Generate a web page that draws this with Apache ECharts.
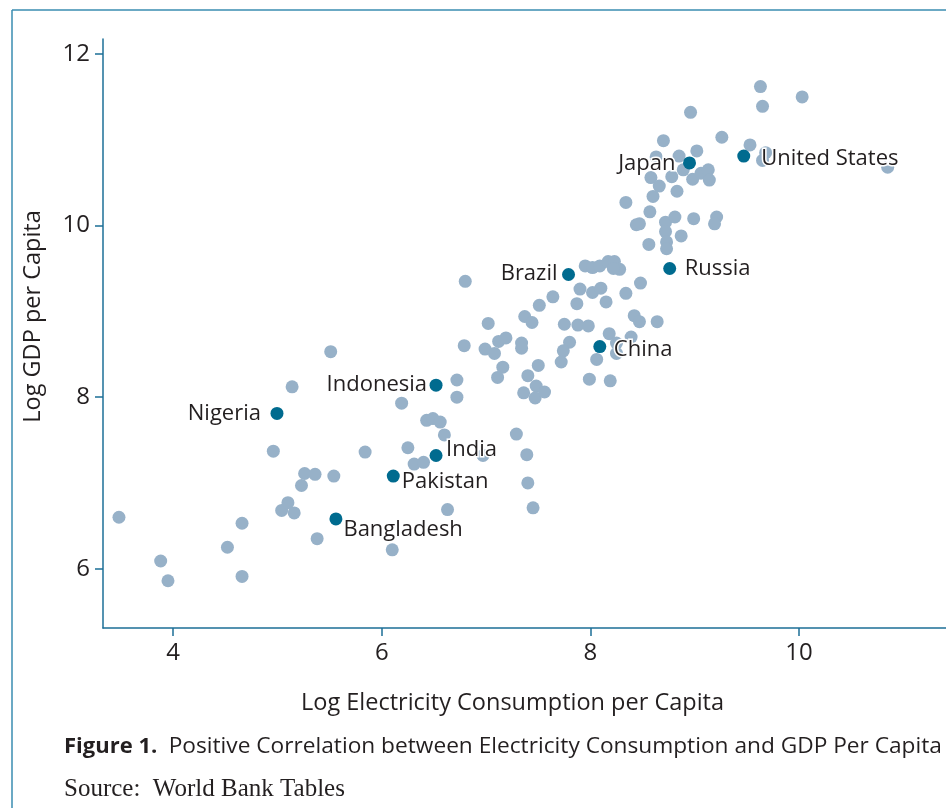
<!DOCTYPE html>
<html>
<head>
<meta charset="utf-8">
<script src="https://cdn.jsdelivr.net/npm/echarts@6/dist/echarts.min.js"></script>
<style>
  html, body { margin: 0; padding: 0; background: #ffffff; }
  #chart { width: 946px; height: 808px; }
</style>
</head>
<body>
<div id="chart"></div>
<script>
// Log electricity consumption per capita (x) and log GDP per capita (y)
const elecOther = [
  3.48, 3.88, 3.95, 4.52, 4.66, 4.66, 4.96, 5.14, 5.04, 5.10,
  5.16, 5.23, 5.26, 5.36, 5.38, 5.51, 5.54, 5.84, 6.19, 6.10,
  6.25, 6.31, 6.40, 6.43, 6.49, 6.56, 6.60, 6.63, 6.72, 6.72,
  6.79, 6.80, 6.97, 7.02, 6.99, 7.08, 7.12, 7.19, 7.16, 7.11,
  7.29, 7.39, 7.40, 7.45, 7.34, 7.34, 7.37, 7.44, 7.51, 7.50,
  7.40, 7.48, 7.36, 7.47, 7.56, 7.64, 7.75, 7.88, 7.98, 7.80,
  7.74, 7.72, 7.87, 7.90, 8.02, 8.10, 8.15, 7.95, 8.02, 8.09,
  8.17, 8.23, 8.28, 8.22, 8.34, 8.48, 8.18, 8.25, 8.25, 8.06,
  7.99, 8.19, 8.39, 8.42, 8.47, 8.64, 8.34, 8.57, 8.44, 8.47,
  8.60, 8.58, 8.66, 8.70, 8.63, 8.85, 9.02, 8.78, 8.89, 8.83,
  8.98, 9.06, 9.13, 9.14, 8.72, 8.81, 8.99, 9.21, 9.19, 8.72,
  8.87, 8.56, 8.73, 8.73, 8.96, 9.26, 9.53, 9.68, 9.65, 9.63,
  9.65, 10.03, 10.85
];
const gdpOther = [
  6.60, 6.09, 5.86, 6.25, 6.53, 5.91, 7.37, 8.12, 6.68, 6.77,
  6.65, 6.97, 7.11, 7.10, 6.35, 8.53, 7.08, 7.36, 7.93, 6.22,
  7.41, 7.22, 7.24, 7.73, 7.75, 7.71, 7.56, 6.69, 8.20, 8.00,
  8.60, 9.35, 7.32, 8.86, 8.56, 8.51, 8.65, 8.69, 8.35, 8.23,
  7.57, 7.33, 7.00, 6.71, 8.63, 8.57, 8.94, 8.87, 9.07, 8.37,
  8.25, 8.13, 8.05, 7.99, 8.06, 9.17, 8.85, 8.84, 8.83, 8.64,
  8.54, 8.41, 9.09, 9.26, 9.22, 9.27, 9.11, 9.53, 9.51, 9.53,
  9.58, 9.58, 9.49, 9.50, 9.21, 9.33, 8.74, 8.63, 8.51, 8.44,
  8.21, 8.19, 8.70, 8.95, 8.88, 8.88, 10.27, 10.16, 10.01, 10.02,
  10.34, 10.56, 10.46, 10.99, 10.80, 10.81, 10.87, 10.57, 10.65, 10.40,
  10.54, 10.61, 10.65, 10.53, 10.04, 10.10, 10.08, 10.10, 10.02, 9.93,
  9.88, 9.78, 9.81, 9.73, 11.32, 11.03, 10.94, 10.85, 10.76, 11.62,
  11.39, 11.50, 10.68
];

// Named countries
const labeledCountries = ['Nigeria', 'Indonesia', 'India', 'Pakistan', 'Bangladesh',
                          'China', 'Brazil', 'Russia', 'Japan', 'United States'];
const elecLabeled = [4.995, 6.52, 6.52, 6.11, 5.56, 8.09, 7.79, 8.76, 8.95, 9.47];
const gdpLabeled  = [7.81, 8.14, 7.32, 7.08, 6.58, 8.59, 9.43, 9.50, 10.73, 10.81];

const xTicks = [4, 6, 8, 10];
const yTicks = [6, 8, 10, 12];

const FONT = '"Open Sans", "Noto Sans", sans-serif';
const INK = '#231f20';
const AXIS = '#1d6f97';

// Where each country name sits relative to its dot: [side, dx, dy]
const labelPlacement = {
  'Nigeria': ['left', -3.5, 0],
  'Indonesia': ['left', 3.5, 0],
  'India': ['right', -2.5, -6],
  'Pakistan': ['right', -4, 6],
  'Bangladesh': ['right', -5, 11],
  'China': ['right', 1.5, 3],
  'Brazil': ['left', 1.5, -1],
  'Russia': ['right', 2.5, 0],
  'Japan': ['left', -1.5, 1],
  'United States': ['right', 5, 3]
};

const otherData = elecOther.map((x, i) => [x, gdpOther[i]]);
const labeledData = labeledCountries.map((name, i) => {
  const p = labelPlacement[name];
  return {
    name: name,
    value: [elecLabeled[i], gdpLabeled[i]],
    label: { position: p[0], offset: [p[1], p[2]] }
  };
});

const chart = echarts.init(document.getElementById('chart'), null, { renderer: 'canvas' });

chart.setOption({
  animation: false,
  backgroundColor: '#ffffff',
  grid: { left: 103, top: 39, right: 0, bottom: 180, containLabel: false },
  xAxis: {
    type: 'value',
    min: 3.327,
    max: 11.409,
    name: 'Log Electricity Consumption per Capita',
    nameLocation: 'middle',
    nameGap: 63,
    nameTextStyle: { fontFamily: FONT, fontSize: 23.5, color: INK, padding: [0, 24, 0, 0] },
    axisLine: { show: true, lineStyle: { color: AXIS, width: 1.5 } },
    axisTick: { show: true, length: 8, customValues: xTicks, lineStyle: { color: AXIS, width: 1.5 } },
    axisLabel: { customValues: xTicks, fontFamily: FONT, fontSize: 24, color: INK, margin: 13 },
    splitLine: { show: false }
  },
  yAxis: {
    type: 'value',
    min: 5.309,
    max: 12.175,
    name: 'Log GDP per Capita',
    nameLocation: 'middle',
    nameGap: 58,
    nameTextStyle: { fontFamily: FONT, fontSize: 23.5, color: INK, padding: [0, 0, 0, 34] },
    axisLine: { show: true, lineStyle: { color: AXIS, width: 1.5 } },
    axisTick: { show: true, length: 8, customValues: yTicks, lineStyle: { color: AXIS, width: 1.5 } },
    axisLabel: { customValues: yTicks, fontFamily: FONT, fontSize: 24, color: INK, margin: 13 },
    splitLine: { show: false }
  },
  series: [
    {
      type: 'scatter',
      data: otherData,
      symbol: 'circle',
      symbolSize: 13,
      itemStyle: { color: '#97b1c8', opacity: 1 },
      z: 2
    },
    {
      type: 'scatter',
      data: labeledData,
      symbol: 'circle',
      symbolSize: 13,
      itemStyle: { color: '#006b8f', opacity: 1 },
      label: {
        show: true,
        formatter: '{b}',
        distance: 6,
        fontFamily: FONT,
        fontSize: 22,
        color: INK,
        textBorderColor: '#ffffff',
        textBorderWidth: 3
      },
      z: 5
    }
  ],
  graphic: [
    // frame rule on the left and top
    { type: 'line', shape: { x1: 12, y1: 10, x2: 12, y2: 808 }, style: { stroke: '#3a8db0', lineWidth: 1.5 } },
    { type: 'line', shape: { x1: 12, y1: 10, x2: 946, y2: 10 }, style: { stroke: '#3a8db0', lineWidth: 1.5 } },
    {
      type: 'text', left: 64, top: 735,
      style: {
        text: '{b|Figure 1.}  {n|Positive Correlation between Electricity Consumption and GDP Per Capita}',
        rich: {
          b: { fontFamily: FONT, fontWeight: 'bold', fontSize: 22, fill: INK },
          n: { fontFamily: FONT, fontSize: 22.7, fill: INK }
        },
        fontFamily: FONT, fontSize: 22, fill: INK
      }
    },
    {
      type: 'text', left: 64, top: 777,
      style: {
        text: 'Source:  World Bank Tables',
        fontFamily: '"Liberation Serif", "DejaVu Serif", serif',
        fontSize: 25, fill: INK
      }
    }
  ]
});
</script>
</body>
</html>
